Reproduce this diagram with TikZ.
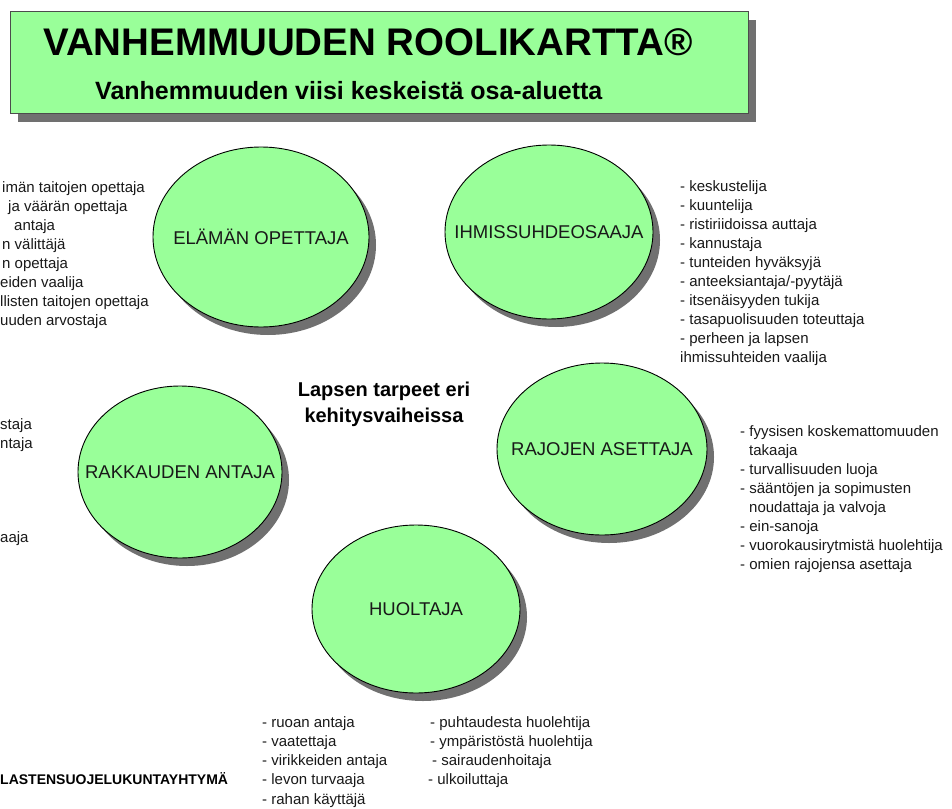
\documentclass[tikz,border=0pt]{standalone}
\usepackage{fontspec}
\setmainfont{Liberation Sans}
\usetikzlibrary{shapes.geometric,shadows}
\definecolor{bggreen}{RGB}{153,255,153}
\definecolor{shadowgray}{RGB}{112,112,112}
\tikzset{
  role/.style={ellipse, draw=black, line width=0.9pt, fill=bggreen, inner sep=0pt,
    font=\fontsize{18.5}{20}\selectfont, text=black!90,
    drop shadow={shadow xshift=7pt, shadow yshift=-8pt, fill=shadowgray, opacity=1}},
  titlebox/.style={rectangle, draw=black!70, line width=0.9pt, fill=bggreen, inner sep=0pt,
    drop shadow={shadow xshift=8pt, shadow yshift=-9pt, fill=shadowgray, opacity=1}},
  lst/.style={inner sep=0pt, anchor=base west, font=\fontsize{15}{19}\selectfont, text=black!90},
  plain/.style={inner sep=0pt, anchor=base west}
}
\begin{document}
\begin{tikzpicture}[x=1pt,y=-1pt]
\useasboundingbox (0,0) rectangle (952,808);
\fill[white] (0,0) rectangle (952,808);

% title
\node[titlebox, minimum width=738pt, minimum height=102pt] (title) at (379,62) {};
\node[plain, font=\fontsize{38.5}{40}\selectfont\bfseries] (titletext) at (43,56) {VANHEMMUUDEN ROOLIKARTTA®};
\node[plain, font=\fontsize{25}{28}\selectfont\bfseries] (subtitle) at (95,99) {Vanhemmuuden viisi keskeistä osa-aluetta};

% roles
\node[role, minimum width=216pt, minimum height=180pt] (elama) at (261,237) {\makebox[0pt]{ELÄMÄN OPETTAJA}};
\node[role, minimum width=208pt, minimum height=174pt] (ihmis) at (549,232) {\makebox[0pt]{IHMISSUHDEOSAAJA}};
\node[role, minimum width=204pt, minimum height=172pt] (rakkaus) at (180,472) {\makebox[0pt]{RAKKAUDEN ANTAJA}};
\node[role, minimum width=210pt, minimum height=172pt] (rajat) at (602,449) {\makebox[0pt]{RAJOJEN ASETTAJA}};
\node[role, minimum width=208pt, minimum height=168pt] (huolto) at (416,609) {\makebox[0pt]{HUOLTAJA}};

% centre
\node[inner sep=0pt, align=center, font=\fontsize{20}{26}\selectfont\bfseries] (centre) at (384,404) {Lapsen tarpeet eri\\kehitysvaiheissa};

% elämän opettaja list (cut at the left edge)
\foreach \x/\t [count=\i from 0] in {2/imän taitojen opettaja, 8/ja väärän opettaja, 14/antaja, 2/n välittäjä, 2/n opettaja, 0/eiden vaalija, 0/llisten taitojen opettaja, 0/uuden arvostaja}
  \node[lst] (el\i) at (\x,{192+19.1*\i}) {\t};

% rakkauden antaja list (cut)
\node[lst] (ra0) at (0,429) {staja};
\node[lst] (ra1) at (0,448) {ntaja};
\node[lst] (ra2) at (0,542) {aaja};

% ihmissuhdeosaaja list
\foreach \t [count=\i from 0] in {- keskustelija, - kuuntelija, - ristiriidoissa auttaja, - kannustaja, - tunteiden hyväksyjä, - anteeksiantaja/-pyytäjä, - itsenäisyyden tukija, - tasapuolisuuden toteuttaja, - perheen ja lapsen, ihmissuhteiden vaalija}
  \node[lst] (ih\i) at (680,{191+19*\i}) {\t};

% rajojen asettaja list
\foreach \x/\t [count=\i from 0] in {740/- fyysisen koskemattomuuden, 749/takaaja, 740/- turvallisuuden luoja, 740/- sääntöjen ja sopimusten, 749/noudattaja ja valvoja, 740/- ein-sanoja, 740/- vuorokausirytmistä huolehtija, 740/- omien rajojensa asettaja}
  \node[lst] (rj\i) at (\x,{436+19*\i}) {\t};

% huoltaja lists
\foreach \t [count=\i from 0] in {- ruoan antaja, - vaatettaja, - virikkeiden antaja, - levon turvaaja, - rahan käyttäjä}
  \node[lst] (hu\i) at (262,{727+19.3*\i}) {\t};
\foreach \x/\t [count=\i from 0] in {430/- puhtaudesta huolehtija, 430/- ympäristöstä huolehtija, 432/- sairaudenhoitaja, 428/- ulkoiluttaja}
  \node[lst] (hv\i) at (\x,{727+19.3*\i}) {\t};

% organisation
\node[plain, font=\fontsize{14}{16}\selectfont\bfseries] (org) at (0,784) {LASTENSUOJELUKUNTAYHTYMÄ};
\end{tikzpicture}
\end{document}
